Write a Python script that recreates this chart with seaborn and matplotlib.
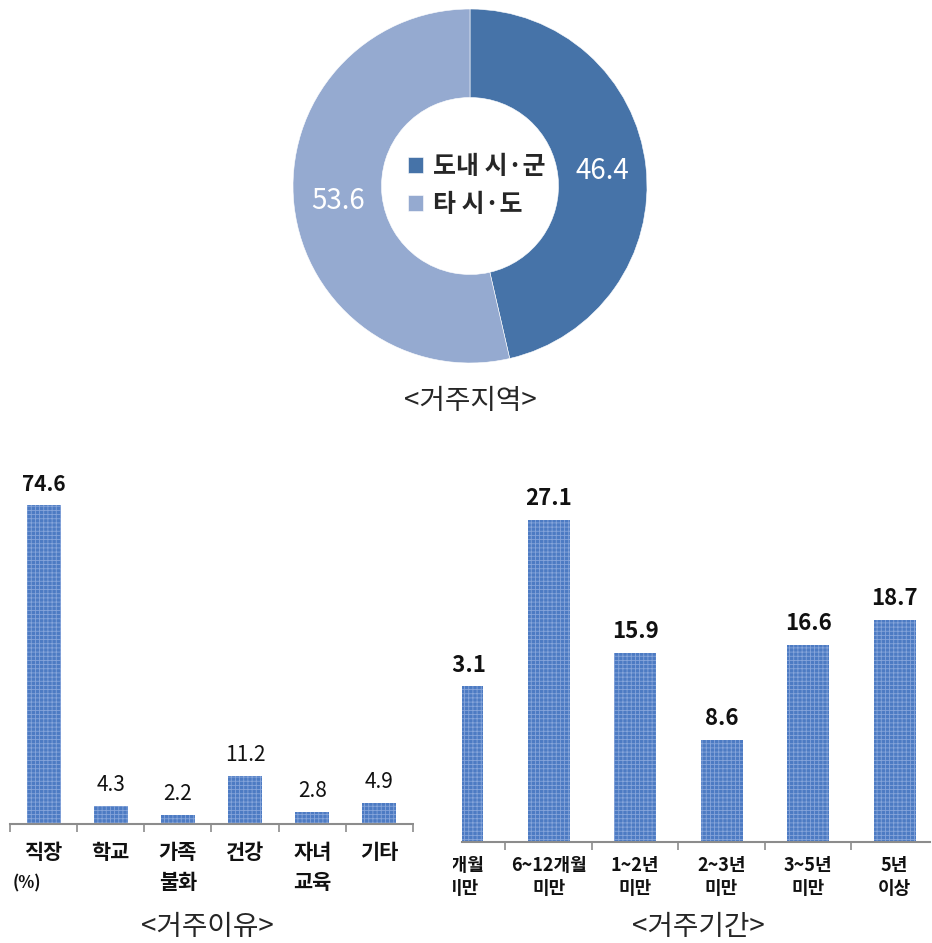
import numpy as np
import pandas as pd
import matplotlib
matplotlib.use('Agg')
import matplotlib.pyplot as plt
from matplotlib.patches import Rectangle
import seaborn as sns

# -----------------------------
# data
# -----------------------------
region_labels = ['도내 시·군', '타 시·도']
region_values = [46.4, 53.6]

reason_labels = ['직장', '학교', '가족\n불화', '건강', '자녀\n교육', '기타']
reason_values = [74.6, 4.3, 2.2, 11.2, 2.8, 4.9]

period_labels = ['6개월\n미만', '6~12개월\n미만', '1~2년\n미만', '2~3년\n미만', '3~5년\n미만', '5년\n이상']
period_values = [13.1, 27.1, 15.9, 8.6, 16.6, 18.7]

DARK = '#4673a8'
LIGHT = '#95aad0'
BAR = '#4d7bc3'
DOTS = '#86a5da'
AXIS = '#8c8c8c'

sns.set_theme(style='white')
plt.rcParams['font.family'] = ['Noto Sans CJK KR', 'DejaVu Sans']
plt.rcParams['hatch.linewidth'] = 0.6

W, H = 932, 943
fig = plt.figure(figsize=(W / 100, H / 100), dpi=100)


def px_axes(x0, y_top, w, h):
    return fig.add_axes([x0 / W, 1 - (y_top + h) / H, w / W, h / H])


# -----------------------------
# donut
# -----------------------------
ax_pie = px_axes(470 - 181, 186 - 181, 362, 362)
wedges, _, pcts = ax_pie.pie(
    region_values, colors=[DARK, LIGHT], startangle=90, counterclock=False,
    wedgeprops=dict(width=0.5, edgecolor='white', linewidth=0.4),
    autopct=lambda p: f'{p:.1f}', pctdistance=0.75,
    textprops=dict(color='white', fontsize=20))
ax_pie.set_xlim(-181 / 177, 181 / 177)
ax_pie.set_ylim(-181 / 177, 181 / 177)
ax_pie.legend(wedges, region_labels, loc='center', bbox_to_anchor=(0.52, 0.5),
              frameon=False, prop=dict(weight='bold', size=18),
              handlelength=0.6, handleheight=0.6, handletextpad=0.4,
              labelspacing=0.55)
fig.text(470 / W, 1 - 401 / H, '<거주지역>', ha='center', va='center', fontsize=20)


# -----------------------------
# bar charts
# -----------------------------
def bar_chart(ax, labels, values, width, ylim, xlim, label_size, label_weight,
              tick_size, tick_pad, spacing):
    df = pd.DataFrame({'cat': labels, 'val': values})
    sns.barplot(data=df, x='cat', y='val', color=BAR, width=width,
                saturation=1, ax=ax)
    for p in ax.patches:
        p.set_facecolor(BAR)
        p.set_edgecolor(DOTS)
        p.set_linewidth(0)
        p.set_hatch('++++')
    texts = ax.bar_label(ax.containers[0], fmt='%.1f', padding=7,
                         fontsize=label_size, fontweight=label_weight,
                         color='#111111')
    for t in texts:
        t.set_annotation_clip(False)
    n = len(labels)
    ax.set_xticks(np.arange(n + 1) - 0.5)
    ax.set_xticklabels([])
    ax.set_xticks(np.arange(n), labels, minor=True)
    ax.set_xlim(*xlim)
    ax.set_ylim(*ylim)
    ax.tick_params(axis='x', which='major', bottom=True, direction='out',
                   length=6, width=1.2, color=AXIS)
    ax.tick_params(axis='x', which='minor', bottom=True, length=0,
                   pad=tick_pad, labelsize=tick_size, labelcolor='#111111')
    for t in ax.get_xticklabels(minor=True):
        t.set_fontweight('bold')
        t.set_linespacing(spacing)
    ax.set_yticks([])
    ax.set_xlabel('')
    ax.set_ylabel('')
    for s in ['top', 'right', 'left']:
        ax.spines[s].set_visible(False)
    ax.spines['bottom'].set_color(AXIS)
    ax.spines['bottom'].set_linewidth(1.5)
    ax.patch.set_alpha(0)
    return texts


ax_l = px_axes(10, 824 - 342, 403, 342)
texts = bar_chart(ax_l, reason_labels, reason_values, 0.506, (0, 80), (-0.5, 5.5),
                  15, 'normal', 15, 13, 1.5)
texts[int(np.argmax(reason_values))].set_fontweight('bold')
fig.text(13 / W, 1 - 883 / H, '(%)', ha='left', va='center',
         fontsize=12, fontweight='bold', color='#111111')
fig.text(207 / W, 1 - 927 / H, '<거주이유>', ha='center', va='center', fontsize=20)

# the right chart starts in the middle of its first bar
slot = 86.5
x0 = 462
ax_r = px_axes(x0, 842 - 356.4, 930 - x0, 356.4)
bar_chart(ax_r, period_labels, period_values, 0.486, (0, 30),
          (-0.002, (930 - x0) / slot), 16, 'bold', 13, 10, 1.3)
fig.text(698 / W, 1 - 927 / H, '<거주기간>', ha='center', va='center', fontsize=20)

# hide what lies left of the cut
fig.add_artist(Rectangle((414 / W, 1 - 905 / H), 39 / W, 440 / H,
                         transform=fig.transFigure, facecolor='white',
                         edgecolor='none', zorder=10))

fig.savefig('out.png', dpi=100)
